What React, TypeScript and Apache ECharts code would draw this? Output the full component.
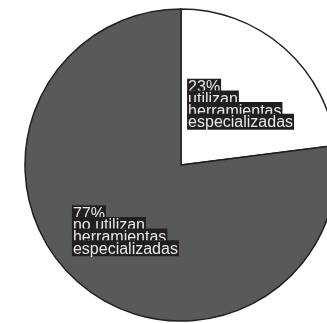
import React, { useEffect, useRef } from "react";
import * as echarts from "echarts";

const categories = ["utilizan\nherramientas\nespecializadas", "no utilizan\nherramientas\nespecializadas"];
const values = [23, 77];
const colors = ["#ffffff", "#58595b"];
const labelPads = [
  [0, 0, 0, 12],
  [10, 4, 0, 0],
];

export default function App() {
  const ref = useRef<HTMLDivElement>(null);
  useEffect(() => {
    if (!ref.current) return;
    const chart = echarts.init(ref.current, undefined, { renderer: "svg" });
    chart.setOption({
      animation: false,
      series: [
        {
          type: "pie",
          center: [181, 165],
          radius: 156,
          startAngle: 90,
          clockwise: true,
          data: categories.map((name, i) => ({
            name,
            value: values[i],
            itemStyle: { color: colors[i], borderColor: "#231f20", borderWidth: 1.5 },
            label: { padding: labelPads[i] },
          })),
          label: {
            show: true,
            position: "inside",
            formatter: (p: any) => {
              const lines = [p.value + "%", ...String(p.name).split("\n")];
              return lines.map((l) => "{b|" + l + "}").join("\n");
            },
            rich: {
              b: {
                fontFamily: "Liberation Sans, Arial, sans-serif",
                fontSize: 16,
                lineHeight: 11.7,
                color: "#e8e8e8",
                backgroundColor: "#231f20",
                align: "left",
                padding: [0, 1, 0, 1],
              },
            },
          },
          labelLine: { show: false },
        },
      ],
    });
    return () => chart.dispose();
  }, []);
  return <div ref={ref} style={{ position: "fixed", left: 0, top: 0, width: 327, height: 323 }} />;
}
